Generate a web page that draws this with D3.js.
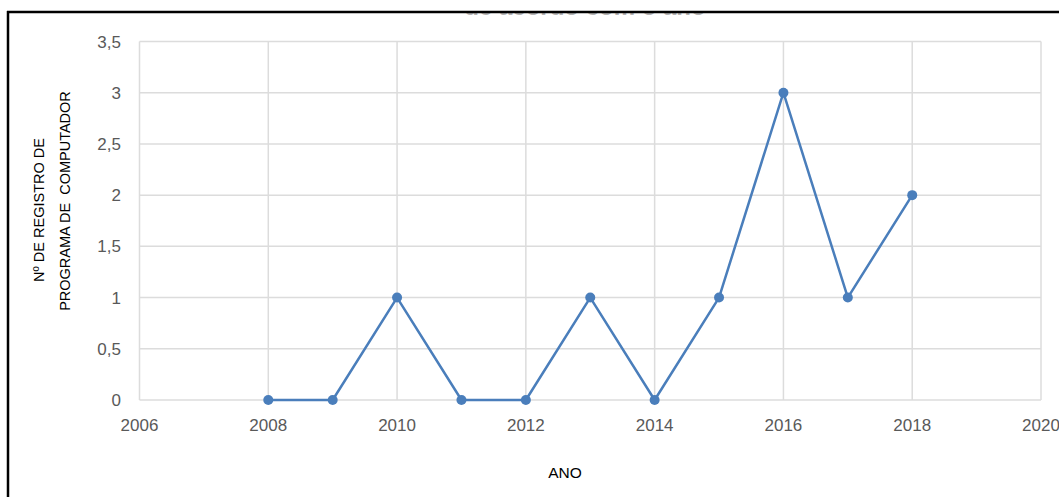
<!DOCTYPE html>
<html>
<head>
<meta charset="utf-8">
<script src="https://cdn.jsdelivr.net/npm/d3@7"></script>
<style>
  body { margin: 0; background: #fff; }
  svg { display: block; font-family: "Liberation Sans", Arial, sans-serif; }
</style>
</head>
<body>
<svg id="chart" width="1059" height="497"></svg>
<script>
const years = [2008, 2009, 2010, 2011, 2012, 2013, 2014, 2015, 2016, 2017, 2018];
const registros = [0, 0, 1, 0, 0, 1, 0, 1, 3, 1, 2];
const xTicks = [2006, 2008, 2010, 2012, 2014, 2016, 2018, 2020];
const yTicks = [0, 0.5, 1, 1.5, 2, 2.5, 3, 3.5];

const svg = d3.select("#chart");
const plotLeft = 139.5, plotRight = 1041, plotTop = 41.5, plotBottom = 400;

const x = d3.scaleLinear().domain([2006, 2020]).range([plotLeft, plotRight]);
const y = d3.scaleLinear().domain([0, 3.5]).range([plotBottom, plotTop]);
const fmt = d => String(d).replace(".", ",");

// title, cut off by the frame (only the bottom of the glyphs shows)
svg.append("clipPath").attr("id", "titleClip")
    .append("rect").attr("x", 0).attr("y", 13).attr("width", 1059).attr("height", 20);
svg.append("text")
    .attr("clip-path", "url(#titleClip)")
    .attr("x", 585).attr("y", 15)
    .attr("text-anchor", "middle")
    .style("font-size", "24px").style("font-weight", "bold")
    .attr("fill", "#b4b4b4")
    .text("de acordo com o ano");

// gridlines
const grid = svg.append("g");
grid.selectAll(".hgrid").data(yTicks).enter().append("line")
    .attr("x1", plotLeft).attr("x2", plotRight)
    .attr("y1", d => y(d)).attr("y2", d => y(d))
    .attr("stroke", "#dcdcdc").attr("stroke-width", 1.5);
grid.selectAll(".vgrid").data(xTicks).enter().append("line")
    .attr("x1", d => x(d)).attr("x2", d => x(d))
    .attr("y1", plotTop).attr("y2", plotBottom)
    .attr("stroke", "#dcdcdc").attr("stroke-width", 1.5);

// tick labels
svg.append("g").selectAll("text").data(yTicks).enter().append("text")
    .attr("x", 121).attr("y", d => y(d) + 6)
    .attr("text-anchor", "end")
    .style("font-size", "17px")
    .attr("fill", "#595959")
    .text(fmt);
svg.append("g").selectAll("text").data(xTicks).enter().append("text")
    .attr("x", d => x(d)).attr("y", 431)
    .attr("text-anchor", "middle")
    .style("font-size", "17px")
    .attr("fill", "#595959")
    .text(d => d);

// axis titles
svg.append("text")
    .attr("x", 565).attr("y", 478)
    .attr("text-anchor", "middle")
    .style("font-size", "15.5px")
    .attr("fill", "#000")
    .text("ANO");
svg.append("text")
    .attr("transform", "translate(44,210) rotate(-90)")
    .attr("text-anchor", "middle")
    .style("font-size", "14.5px")
    .attr("fill", "#000")
    .text("Nº DE REGISTRO DE");
svg.append("text")
    .attr("transform", "translate(70,201) rotate(-90)")
    .attr("text-anchor", "middle")
    .style("font-size", "14.5px")
    .style("white-space", "pre")
    .attr("fill", "#000")
    .text("PROGRAMA DE  COMPUTADOR");

// series
const pts = years.map((yr, i) => [yr, registros[i]]);
svg.append("path")
    .datum(pts)
    .attr("fill", "none")
    .attr("stroke", "#4a7ebb")
    .attr("stroke-width", 2.5)
    .attr("stroke-linejoin", "round")
    .attr("d", d3.line().x(d => x(d[0])).y(d => y(d[1])));
svg.append("g").selectAll("circle").data(pts).enter().append("circle")
    .attr("cx", d => x(d[0])).attr("cy", d => y(d[1]))
    .attr("r", 5)
    .attr("fill", "#4a7ebb");

// outer frame
svg.append("line").attr("x1", 7).attr("x2", 1059).attr("y1", 12).attr("y2", 12)
    .attr("stroke", "#000").attr("stroke-width", 2.5);
svg.append("line").attr("x1", 8).attr("x2", 8).attr("y1", 11).attr("y2", 497)
    .attr("stroke", "#000").attr("stroke-width", 2.5);
</script>
</body>
</html>
